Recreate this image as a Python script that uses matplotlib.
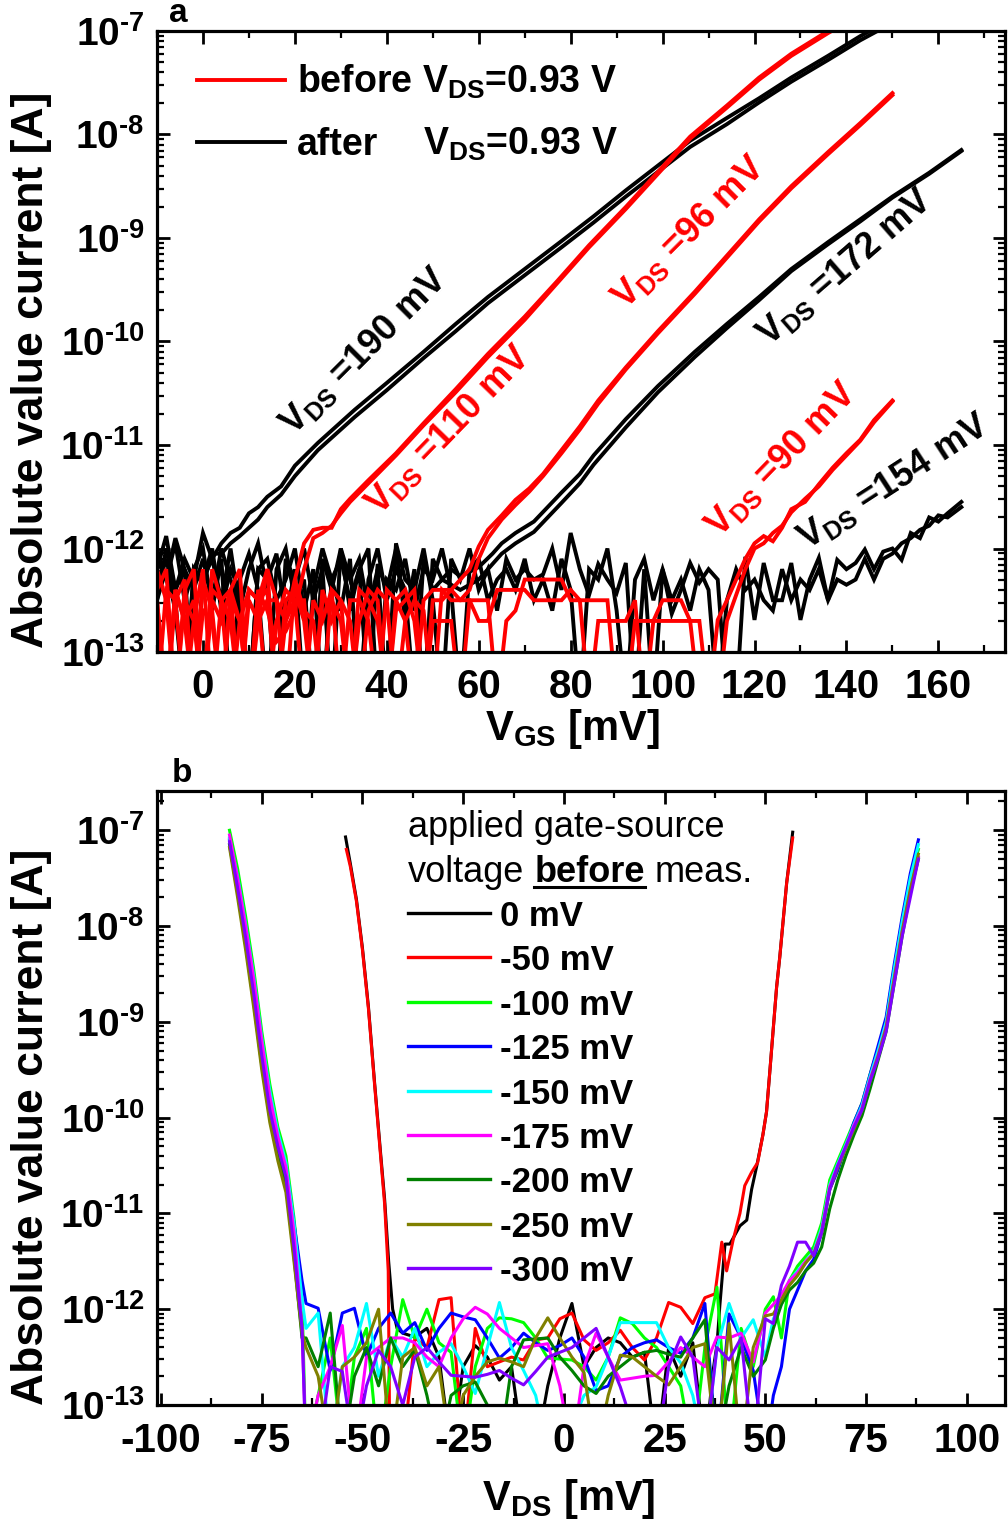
import numpy as np
import matplotlib.pyplot as plt
from matplotlib.lines import Line2D
from matplotlib.ticker import MultipleLocator, LogLocator, NullFormatter

plt.rcParams['font.family'] = 'Liberation Sans'
plt.rcParams['font.weight'] = 'bold'
plt.rcParams['mathtext.fontset'] = 'custom'
plt.rcParams['mathtext.rm'] = 'Liberation Sans:bold'
plt.rcParams['mathtext.it'] = 'Liberation Sans:bold'
plt.rcParams['mathtext.bf'] = 'Liberation Sans:bold'
plt.rcParams['mathtext.sf'] = 'Liberation Sans:bold'
plt.rcParams['mathtext.default'] = 'bf'

# ---------------- panel a : I(V_GS), values are log10|I| ----------------
# noise part: one value every 2 mV starting at -10 mV, then the rising branch

# black pair, V_DS = 190 mV (goes up into the 0.93 V "after" curve)
blk190_noise_1 = [-12.2, -11.88, -12.4, -12.1, -12.3, -11.85, -12.1]
blk190_noise_2 = [-12.5, -12.2, -12.6, -13.5, -12.2, -12.35, -12.05]
blk190_vgs = [4, 6, 8, 10, 12, 14, 17, 20, 25, 33, 40, 48, 55, 62, 70, 78, 85,
              92, 99, 106, 114, 121, 128, 136, 143, 148]
blk190_log_1 = [-11.95, -11.85, -11.8, -11.66, -11.6, -11.5, -11.4, -11.2, -10.98,
                -10.66, -10.4, -10.1, -9.83, -9.57, -9.3, -9.03, -8.79, -8.54,
                -8.3, -8.06, -7.84, -7.65, -7.45, -7.24, -7.05, -6.93]
blk190_log_2 = [-12.05, -11.95, -11.88, -11.8, -11.72, -11.6, -11.48, -11.3, -11.05,
                -10.73, -10.47, -10.16, -9.9, -9.63, -9.36, -9.09, -8.85, -8.6,
                -8.36, -8.12, -7.9, -7.69, -7.49, -7.28, -7.09, -6.97]

# red pair, V_DS = 110 mV (goes up into the 0.93 V "before" curve)
red110_noise_1 = [-12.2, -12.5, -13.5, -12.4, -12.2, -13.5, -12.5, -12.7, -12.4,
                  -13.5, -12.5, -12.7, -12.2, -12.5, -12.7]
red110_noise_2 = [-12.5, -13.5, -12.4, -12.7, -13.5, -12.3, -12.6, -13.5, -12.5,
                  -12.7, -13.5, -12.4, -12.6, -12.9, -12.8]
red110_vgs = [20, 22, 24, 26, 28, 30, 32, 36, 42, 48, 55, 62, 70, 77, 84, 92, 99,
              106, 114, 121, 128, 136, 140]
red110_log_1 = [-12.3, -11.95, -11.82, -11.8, -11.8, -11.62, -11.52, -11.34, -11.08,
                -10.79, -10.46, -10.12, -9.76, -9.42, -9.07, -8.7, -8.36, -8.02,
                -7.72, -7.45, -7.22, -7.0, -6.9]
red110_log_2 = [-12.6, -12.2, -11.9, -11.85, -11.78, -11.66, -11.55, -11.37, -11.1,
                -10.81, -10.49, -10.15, -9.79, -9.44, -9.09, -8.72, -8.38, -8.04,
                -7.74, -7.47, -7.24, -7.02, -6.92]

# red pair, V_DS = 96 mV
red96_noise_1 = [-12.4, -12.2, -13.5, -12.5, -12.7,
                 -13.5, -12.4, -12.5, -13.5, -12.7,
                 -12.4, -12.5, -12.2, -13.5, -12.5,
                 -12.4, -12.7, -13.5, -12.5, -12.5,
                 -12.7, -13.5, -12.4, -12.5, -12.7,
                 -13.5, -12.5, -12.4, -12.7, -13.5,
                 -12.5, -12.5, -12.4, -12.3]
red96_noise_2 = [-12.7, -13.5, -12.5, -12.3, -13.5,
                 -12.6, -12.7, -13.5, -12.4, -12.2,
                 -13.5, -12.7, -12.5, -12.5, -13.5,
                 -12.3, -12.6, -12.7, -13.5, -12.4,
                 -12.5, -12.7, -13.5, -12.6, -12.4,
                 -12.5, -13.5, -12.7, -12.5, -12.6,
                 -13.5, -12.4, -12.5, -12.5]
red96_vgs = [58, 60, 62, 65, 68, 71, 74, 78, 82, 86, 92, 99, 107, 114, 121, 128,
             136, 143, 150]
red96_log_1 = [-12.2, -11.98, -11.82, -11.68, -11.53, -11.42, -11.28, -11.05, -10.82,
               -10.57, -10.25, -9.9, -9.52, -9.17, -8.82, -8.5, -8.17, -7.89, -7.6]
red96_log_2 = [-12.4, -12.1, -11.9, -11.72, -11.58, -11.45, -11.3, -11.08, -10.85,
               -10.6, -10.27, -9.92, -9.54, -9.19, -8.84, -8.52, -8.19, -7.91, -7.62]

# black pair, V_DS = 172 mV
blk172_noise_1 = [-12.1, -12.3, -11.95, -12.5, -12.2,
                  -12.0, -12.6, -12.1, -13.5, -12.3,
                  -12.05, -12.4, -13.5, -12.2, -12.0,
                  -12.5, -12.3, -13.5, -12.1, -12.4,
                  -12.0, -12.6, -12.2, -13.5, -12.15,
                  -12.4, -12.0, -12.7, -12.2, -13.5,
                  -12.1, -12.3, -12.2]
blk172_noise_2 = [-12.5, -12.0, -12.4, -12.2, -13.5,
                  -12.3, -12.1, -12.5, -12.0, -12.6,
                  -13.5, -12.2, -12.3, -12.05, -12.7,
                  -12.2, -13.5, -12.4, -12.0, -12.3,
                  -12.6, -12.1, -13.5, -12.3, -12.0,
                  -12.5, -12.2, -12.4, -13.5, -12.1,
                  -12.4, -12.3, -12.35]
blk172_vgs = [56, 60, 63, 65, 68, 72, 75, 78, 82, 85, 92, 99, 107, 114, 121, 128,
              136, 143, 150, 158, 165]
blk172_log_1 = [-12.27, -12.18, -12.05, -11.95, -11.85, -11.74, -11.6, -11.46, -11.28,
                -11.1, -10.75, -10.43, -10.1, -9.83, -9.57, -9.3, -9.04, -8.82,
                -8.6, -8.37, -8.15]
blk172_log_2 = [-12.4, -12.3, -12.15, -12.05, -11.95, -11.84, -11.7, -11.56, -11.37,
                -11.19, -10.83, -10.49, -10.15, -9.87, -9.6, -9.32, -9.06, -8.84,
                -8.61, -8.38, -8.16]

# red pair, V_DS = 90 mV
red90_noise_1 = [-12.5, -13.5, -12.4, -12.7, -12.5,
                 -13.5, -12.2, -12.5, -12.7, -13.5,
                 -12.4, -12.5, -13.5, -12.7, -12.4,
                 -12.5, -13.5, -12.5, -12.7, -12.4,
                 -13.5, -12.5, -12.5, -12.7, -13.5,
                 -12.4, -12.5, -12.7, -13.5, -12.5,
                 -12.4, -12.4, -12.4, -12.5, -12.5,
                 -12.7, -12.7, -12.4, -12.4, -12.4,
                 -12.4, -12.5, -12.5, -12.5, -12.5,
                 -12.4, -12.5, -13.5, -12.7, -12.7,
                 -12.7, -12.7, -12.5, -13.5, -12.7,
                 -12.7, -12.7, -12.7, -12.7, -13.5,
                 -13.5]
red90_noise_2 = [-13.5, -12.4, -12.5, -13.5, -12.7,
                 -12.2, -13.5, -12.5, -12.4, -12.7,
                 -13.5, -12.5, -12.4, -13.5, -12.7,
                 -12.5, -12.5, -13.5, -12.4, -12.7,
                 -12.5, -13.5, -12.7, -12.4, -12.5,
                 -13.5, -12.6, -12.5, -12.4, -13.5,
                 -12.7, -12.7, -12.7, -13.5, -12.5,
                 -12.5, -12.5, -13.5, -12.7, -12.6,
                 -12.3, -12.3, -12.3, -12.3, -12.3,
                 -12.5, -12.5, -12.5, -12.5, -12.5,
                 -13.5, -13.5, -12.7, -12.7, -12.7,
                 -12.5, -12.5, -12.5, -12.7, -12.7,
                 -13.5]
red90_vgs = [112, 114, 116, 118, 120, 122, 124, 126, 128, 131, 134, 137, 140, 143,
             146, 150]
red90_log_1 = [-12.69, -12.5, -12.3, -12.1, -11.95, -11.88, -11.93, -11.8, -11.62,
               -11.55, -11.38, -11.22, -11.08, -10.95, -10.76, -10.57]
red90_log_2 = [-13.5, -12.7, -12.45, -12.2, -12.0, -11.95, -11.85, -11.78, -11.65,
               -11.52, -11.4, -11.24, -11.1, -10.96, -10.78, -10.58]

# black pair, V_DS = 154 mV
blk154_noise_1 = [-12.0, -12.3, -11.9, -12.2, -12.4,
                  -12.1, -12.5, -12.0, -12.3, -12.6,
                  -12.2, -11.95, -12.4, -13.5, -12.1,
                  -12.3, -12.0, -12.5, -12.2, -13.5,
                  -12.0, -12.3, -12.1, -12.6, -12.2,
                  -13.5, -11.95, -12.3, -12.4, -12.0,
                  -12.5, -13.5, -12.1, -12.3, -12.0,
                  -12.4, -12.2, -12.6, -12.1, -12.3,
                  -12.2, -12.3, -12.25, -12.0, -12.4,
                  -11.85, -12.2, -12.45, -12.15, -12.3,
                  -12.43, -12.14, -13.5, -12.2, -13.5,
                  -12.2, -12.63, -12.4, -12.14, -12.33,
                  -12.2, -12.3, -13.5, -13.5, -12.08,
                  -12.69, -12.14, -12.5, -12.5, -12.14,
                  -12.69, -12.3, -12.09, -12.5, -12.11,
                  -12.2]
blk154_noise_2 = [-12.4, -12.1, -12.5, -13.5, -12.2,
                  -12.3, -12.0, -12.6, -12.2, -12.4,
                  -13.5, -12.2, -12.1, -12.5, -12.3,
                  -12.0, -12.6, -12.2, -13.5, -12.3,
                  -12.1, -12.5, -12.2, -12.0, -13.5,
                  -12.3, -12.4, -12.1, -12.6, -12.2,
                  -12.3, -12.0, -12.4, -13.5, -12.2,
                  -12.1, -12.5, -12.3, -12.2, -12.4,
                  -12.1, -12.5, -12.3, -12.6, -12.1,
                  -12.4, -13.5, -12.2, -12.3, -12.0,
                  -12.6, -13.5, -12.3, -12.1, -12.5,
                  -12.2, -12.5, -12.3, -12.6, -12.2,
                  -12.4, -13.5, -12.5, -12.2, -12.4,
                  -12.3, -12.5, -12.6, -12.2, -12.5,
                  -12.3, -12.4, -12.2, -12.5, -12.3,
                  -12.35]
blk154_vgs = [142, 144, 146, 148, 150, 152, 154, 156, 158, 160, 162, 165]
blk154_log_1 = [-12.14, -12.01, -12.2, -12.03, -12.0, -12.11, -11.85, -11.9, -11.7,
                -11.74, -11.66, -11.55]
blk154_log_2 = [-12.3, -12.1, -12.3, -12.1, -12.05, -11.95, -11.9, -11.82, -11.78,
                -11.68, -11.7, -11.6]

vds_labels_a = ['V$_{DS}$ =190 mV', 'V$_{DS}$ =110 mV', 'V$_{DS}$ =96 mV',
                'V$_{DS}$ =172 mV', 'V$_{DS}$ =90 mV', 'V$_{DS}$ =154 mV']
legend_a = ['before V$_{DS}$=0.93 V', 'after', 'V$_{DS}$=0.93 V']
vgs_ticks = [0, 20, 40, 60, 80, 100, 120, 140, 160]

# ---------------- panel b : I(V_DS) for several gate pre-bias values ----------------
gate_labels = ['0 mV', '-50 mV', '-100 mV', '-125 mV', '-150 mV', '-175 mV',
               '-200 mV', '-250 mV', '-300 mV']
gate_colors = ['#000000', '#ff0000', '#00ff00', '#0000ff', '#00ffff', '#ff00ff',
               '#008000', '#808000', '#8000ff']

# 0 mV and -50 mV: steep flanks typed point by point, floor every 3 mV from -40 mV
zero_left_vds = [-54.2, -53, -51.5, -50, -48.5, -47, -45.5, -44.5, -43.5, -42.5, -41.4]
zero_left_log = [-7.07, -7.35, -7.72, -8.23, -8.85, -9.63, -10.37, -10.85, -11.5,
                 -12.0, -12.2]
zero_noise = [-12.25, -12.29, -12.2, -12.5, -13.5,
              -12.6, -12.38, -12.5, -12.74, -12.6,
              -13.5, -13.5, -12.8, -12.3, -11.94,
              -12.6, -12.4, -12.3, -12.35, -12.5,
              -12.45, -13.5, -12.4, -12.7, -12.35,
              -13.5]
zero_right_vds = [37, 38, 38.7, 40, 41.2, 43.7, 45.4, 46.6, 47.9, 49.4, 50.3, 51.1,
                  52.8, 53.6, 55.3, 56.8]
zero_right_log = [-12.65, -12.37, -11.97, -11.32, -11.32, -11.13, -11.07, -10.75,
                  -10.5, -10.18, -9.94, -9.53, -8.64, -8.32, -7.55, -7.02]

m50_left_vds = [-54, -53, -51.5, -50, -48.5, -47, -45.5, -44.5, -43.6, -43.2]
m50_left_log = [-7.2, -7.38, -7.74, -8.25, -8.87, -9.65, -10.4, -10.9, -11.6, -13.5]
m50_noise = [-13.5, -12.3, -12.4, -11.9, -11.88,
             -13.5, -12.2, -12.6, -12.55, -12.5,
             -12.53, -12.32, -12.3, -12.1, -12.04,
             -12.32, -12.43, -12.35, -12.22, -12.4,
             -12.53, -12.3, -11.93, -11.98, -12.15,
             -11.88]
m50_right_vds = [37.5, 39.2, 40.4, 42, 43.7, 44.9, 46.6, 48.1, 49.4, 50.3, 51.1, 52.8,
                 53.6, 55.3, 56.8]
m50_right_log = [-11.84, -11.3, -11.6, -11.28, -11.0, -10.71, -10.57, -10.47, -10.18,
                 -9.94, -9.53, -8.64, -8.32, -7.55, -7.08]

# -100 ... -300 mV: shared V_DS points on both flanks, floor every 3 mV from -64 mV
deep_left_vds = [-83, -81, -79, -77, -75, -73, -71, -69, -67, -65]
deep_right_vds = [52, 54, 56, 58, 60, 62, 64, 66, 68, 70, 72, 74, 76, 78, 80, 82,
                  84, 86, 88]

m100_left = [-7.0, -7.4, -7.9, -8.45, -9.1, -9.65, -10.1, -10.4, -11.05, -11.9]
m100_noise = [-13.5, -12.9, -12.3, -13.5, -12.5,
              -12.2, -13.5, -12.6, -11.9, -12.3,
              -12.0, -12.35, -12.45, -13.5, -12.6,
              -12.2, -12.09, -12.1, -12.14, -12.3,
              -12.51, -12.52, -12.53, -12.6, -12.74,
              -12.5, -12.09, -12.15, -12.3, -12.4,
              -12.6, -12.8, -13.5, -12.4, -11.77,
              -13.5, -12.2, -12.6, -12.0]
m100_right = [-11.87, -12.3, -11.7, -11.55, -11.45, -11.35, -11.1, -10.65, -10.45,
              -10.25, -10.05, -9.85, -9.55, -9.28, -8.98, -8.45, -7.95, -7.5, -7.2]

m125_left = [-7.1, -7.5, -8.0, -8.55, -9.2, -9.75, -10.2, -10.5, -11.1, -11.7]
m125_noise = [-11.94, -11.99, -12.64, -12.04, -11.99,
              -12.5, -12.2, -12.04, -12.25, -12.14,
              -12.43, -12.2, -12.04, -12.08, -12.11,
              -12.3, -12.51, -12.4, -12.25, -12.35,
              -12.43, -12.38, -12.3, -12.5, -12.85,
              -12.8, -12.5, -12.4, -12.35, -12.32,
              -12.4, -12.46, -12.3, -11.94, -13.5,
              -12.05, -12.3, -12.64, -13.5]
m125_right = [-12.9, -12.6, -12.0, -11.8, -11.6, -11.48, -11.2, -10.75, -10.55,
              -10.3, -10.05, -9.85, -9.55, -9.25, -8.95, -8.4, -7.9, -7.45, -7.1]

m150_left = [-7.08, -7.48, -7.98, -8.52, -9.17, -9.72, -10.15, -10.47, -11.1, -11.9]
m150_noise = [-12.2, -12.04, -13.5, -12.6, -12.4,
              -11.94, -12.7, -12.3, -12.5, -12.2,
              -12.6, -12.45, -12.36, -12.6, -12.88,
              -12.4, -11.93, -12.4, -12.64, -12.9,
              -13.5, -13.5, -13.2, -12.9, -12.81,
              -12.5, -12.14, -12.14, -12.14, -12.14,
              -12.4, -12.56, -12.9, -13.5, -12.4,
              -11.94, -12.3, -12.11, -12.5]
m150_right = [-12.1, -11.95, -11.7, -11.6, -11.5, -11.4, -11.15, -10.7, -10.48,
              -10.28, -10.07, -9.87, -9.57, -9.3, -9.0, -8.45, -7.95, -7.5, -7.15]

m175_left = [-7.05, -7.5, -8.0, -8.55, -9.2, -9.78, -10.2, -10.52, -11.2, -12.2]
m175_noise = [-13.5, -12.9, -12.6, -12.17, -13.5,
              -12.5, -12.4, -12.3, -12.3, -12.35,
              -12.5, -12.6, -12.3, -12.1, -11.98,
              -12.05, -12.2, -12.3, -12.4, -12.38,
              -12.36, -12.8, -13.5, -12.6, -12.25,
              -12.5, -12.74, -12.72, -12.7, -12.69,
              -12.55, -12.4, -12.5, -12.6, -12.29,
              -12.3, -12.25, -12.55, -12.04]
m175_right = [-11.95, -11.85, -11.7, -11.62, -11.5, -11.42, -11.18, -10.72, -10.5,
              -10.3, -10.08, -9.9, -9.6, -9.35, -9.05, -8.55, -8.05, -7.62, -7.28]

m200_left = [-7.15, -7.65, -8.2, -8.8, -9.45, -10.0, -10.4, -10.7, -11.45, -12.3]
m200_noise = [-12.3, -12.6, -12.04, -13.5, -12.7,
              -12.4, -12.8, -12.3, -12.6, -12.42,
              -12.9, -13.5, -12.9, -12.8, -12.76,
              -13.0, -13.5, -12.6, -12.32, -12.31,
              -12.3, -12.5, -12.64, -12.8, -12.88,
              -12.7, -12.6, -12.5, -12.45, -12.43,
              -12.47, -12.5, -12.3, -12.11, -13.5,
              -12.8, -12.4, -12.7, -12.53]
m200_right = [-12.2, -11.95, -11.8, -11.72, -11.6, -11.52, -11.35, -10.95, -10.65,
              -10.4, -10.18, -9.98, -9.7, -9.4, -9.1, -8.6, -8.1, -7.65, -7.3]

m250_left = [-7.18, -7.7, -8.25, -8.85, -9.5, -10.05, -10.45, -10.78, -11.5, -12.25]
m250_noise = [-12.4, -12.7, -13.5, -12.6, -12.5,
              -12.35, -12.0, -13.5, -12.5, -12.4,
              -12.8, -12.6, -13.5, -12.9, -12.7,
              -12.55, -12.51, -12.55, -12.6, -12.3,
              -12.09, -12.3, -12.5, -12.66, -13.5,
              -12.9, -12.48, -12.5, -12.6, -12.7,
              -12.79, -12.6, -12.4, -12.36, -13.5,
              -12.15, -13.5, -12.4, -12.07]
m250_right = [-12.05, -11.9, -11.75, -11.65, -11.52, -11.42, -11.2, -10.75, -10.52,
              -10.32, -10.12, -9.92, -9.62, -9.36, -9.06, -8.55, -8.05, -7.62, -7.25]

m300_left = [-7.12, -7.6, -8.12, -8.7, -9.35, -9.92, -10.3, -10.62, -11.36, -12.2]
m300_noise = [-13.5, -13.5, -12.6, -12.65, -13.5,
              -12.8, -12.43, -12.6, -13.0, -12.5,
              -12.4, -12.55, -12.69, -12.7, -12.71,
              -12.68, -12.64, -12.72, -12.79, -12.65,
              -12.5, -12.45, -12.4, -12.3, -12.2,
              -12.5, -12.81, -13.2, -13.5, -13.5,
              -12.6, -12.29, -12.5, -13.5, -12.4,
              -12.53, -12.3, -13.5, -12.1]
m300_right = [-12.15, -11.75, -11.55, -11.3, -11.3, -11.44, -11.2, -10.75, -10.5,
              -10.3, -10.1, -9.92, -9.62, -9.38, -9.1, -8.6, -8.1, -7.7, -7.3]

vds_ticks = [-100, -75, -50, -25, 0, 25, 50, 75, 100]
vds_tick_labels = ['-100', '-75', '-50', '-25', '0', '25', '50', '75', '100']
decades = [-13, -12, -11, -10, -9, -8, -7]


def sweep(start, step, noise, rise_x, rise_log):
    x = np.concatenate([start + step * np.arange(len(noise)), rise_x])
    return x, 10.0 ** np.concatenate([noise, rise_log])


def two_flanks(left_x, left_log, start, step, noise, right_x, right_log):
    x = np.concatenate([left_x, start + step * np.arange(len(noise)), right_x])
    return x, 10.0 ** np.concatenate([left_log, noise, right_log])


def fpx(x, y):
    return x / 1008, 1 - y / 1523


def style_axes(ax, xpad):
    for s in ax.spines.values():
        s.set_linewidth(2.3)
    ax.set_yscale('log')
    # short hyphen in the exponent, as in the original axis labels
    ax.set_yticks([10.0 ** d for d in decades],
                  labels=['$10^{\u2010%d}$' % -d for d in decades])
    ax.yaxis.set_minor_locator(LogLocator(base=10, subs=np.arange(2, 10), numticks=30))
    ax.yaxis.set_minor_formatter(NullFormatter())
    ax.tick_params(which='both', direction='in', top=True, right=True)
    ax.tick_params(which='major', length=9, width=2.0)
    ax.tick_params(which='minor', length=5, width=1.6)
    ax.tick_params(axis='x', labelsize=29, pad=xpad)
    ax.tick_params(axis='y', labelsize=28, pad=9)


fig = plt.figure(figsize=(10.08, 15.23), dpi=100)
ax_a = fig.add_axes([157 / 1008, 1 - 652 / 1523, 848 / 1008, 621 / 1523])
ax_b = fig.add_axes([157 / 1008, 1 - 1405 / 1523, 848 / 1008, 614 / 1523])

# ---- panel a ----
lw_a = 2.8
curves_a = [
    (blk190_noise_1, blk190_vgs, blk190_log_1, 'black'),
    (blk190_noise_2, blk190_vgs, blk190_log_2, 'black'),
    (blk172_noise_1, blk172_vgs, blk172_log_1, 'black'),
    (blk172_noise_2, blk172_vgs, blk172_log_2, 'black'),
    (blk154_noise_1, blk154_vgs, blk154_log_1, 'black'),
    (blk154_noise_2, blk154_vgs, blk154_log_2, 'black'),
    (red110_noise_1, red110_vgs, red110_log_1, 'red'),
    (red110_noise_2, red110_vgs, red110_log_2, 'red'),
    (red96_noise_1, red96_vgs, red96_log_1, 'red'),
    (red96_noise_2, red96_vgs, red96_log_2, 'red'),
    (red90_noise_1, red90_vgs, red90_log_1, 'red'),
    (red90_noise_2, red90_vgs, red90_log_2, 'red'),
]
for noise, vx, vl, c in curves_a:
    x, y = sweep(-10, 2, noise, vx, vl)
    ax_a.plot(x, y, color=c, lw=lw_a, solid_joinstyle='miter')

style_axes(ax_a, 11.5)
ax_a.set_xlim(-10, 174.5)
ax_a.set_ylim(1e-13, 1e-7)
ax_a.set_xticks(vgs_ticks)
ax_a.xaxis.set_minor_locator(MultipleLocator(10))

# rotated V_DS labels along the curves
ann_pos = [(35.0, -10.10, 45, 'black'), (53.4, -10.86, 46, 'red'),
           (105.7, -8.95, 45, 'red'), (139.6, -9.28, 41, 'black'),
           (125.8, -11.14, 46, 'red'), (150.2, -11.36, 33, 'black')]
for txt, (xx, ll, rot, c) in zip(vds_labels_a, ann_pos):
    ax_a.text(xx, 10.0 ** ll, txt, color=c, fontsize=26, rotation=rot,
              rotation_mode='anchor', ha='center', va='center')

# legend of panel a
fig.add_artist(Line2D([197 / 1008, 285 / 1008], [fpx(0, 80)[1]] * 2,
                      transform=fig.transFigure, color='red', lw=2.8))
fig.add_artist(Line2D([197 / 1008, 285 / 1008], [fpx(0, 142)[1]] * 2,
                      transform=fig.transFigure, color='black', lw=2.8))
fig.text(*fpx(297, 93), legend_a[0], fontsize=27, va='baseline')
fig.text(*fpx(297, 155), legend_a[1], fontsize=27, va='baseline')
fig.text(*fpx(423, 155), legend_a[2], fontsize=27, va='baseline')

fig.text(*fpx(573, 740), 'V$_{GS}$ [mV]', fontsize=30, ha='center', va='baseline')
fig.text(*fpx(32, 370), 'Absolute value current [A]', fontsize=32, rotation=90,
         ha='center', va='center')
fig.text(*fpx(178, 14), 'a', fontsize=24, ha='center', va='center')

# ---- panel b ----
lw_b = 2.2
sweeps_b = [
    two_flanks(zero_left_vds, zero_left_log, -40, 3, zero_noise, zero_right_vds, zero_right_log),
    two_flanks(m50_left_vds, m50_left_log, -40, 3, m50_noise, m50_right_vds, m50_right_log),
    two_flanks(deep_left_vds, m100_left, -64, 3, m100_noise, deep_right_vds, m100_right),
    two_flanks(deep_left_vds, m125_left, -64, 3, m125_noise, deep_right_vds, m125_right),
    two_flanks(deep_left_vds, m150_left, -64, 3, m150_noise, deep_right_vds, m150_right),
    two_flanks(deep_left_vds, m175_left, -64, 3, m175_noise, deep_right_vds, m175_right),
    two_flanks(deep_left_vds, m200_left, -64, 3, m200_noise, deep_right_vds, m200_right),
    two_flanks(deep_left_vds, m250_left, -64, 3, m250_noise, deep_right_vds, m250_right),
    two_flanks(deep_left_vds, m300_left, -64, 3, m300_noise, deep_right_vds, m300_right),
]
for (x, y), c in zip(sweeps_b, gate_colors):
    ax_b.plot(x, y, color=c, lw=lw_b)

style_axes(ax_b, 12.5)
ax_b.set_xlim(-101, 109.5)
ax_b.set_ylim(1e-13, 10 ** -6.59)
ax_b.set_xticks(vds_ticks, labels=vds_tick_labels)
ax_b.xaxis.set_minor_locator(MultipleLocator(12.5))

# legend of panel b
for i, (lab, c) in enumerate(zip(gate_labels, gate_colors)):
    yl = 913 + 44.4 * i
    fig.add_artist(Line2D([408 / 1008, 490 / 1008], [fpx(0, yl)[1]] * 2,
                          transform=fig.transFigure, color=c, lw=2.4))
    fig.text(*fpx(500, yl + 13), lab, fontsize=25, va='baseline')

fig.text(*fpx(408, 837), 'applied gate-source', fontsize=26, fontweight='normal',
         va='baseline')
r = fig.canvas.get_renderer()
W = fig.bbox.width
space = 0.278 * 26 * 100 / 72
t1 = fig.text(*fpx(408, 882), 'voltage', fontsize=26, fontweight='normal', va='baseline')
b1 = t1.get_window_extent(renderer=r)
t2 = fig.text((b1.x1 + space) / W, fpx(0, 882)[1], 'before', fontsize=26,
              fontweight='bold', va='baseline')
b2 = t2.get_window_extent(renderer=r)
fig.add_artist(Line2D([b2.x0 / W, b2.x1 / W], [fpx(0, 887)[1]] * 2,
                      transform=fig.transFigure, color='black', lw=2.2))
fig.text((b2.x1 + space) / W, fpx(0, 882)[1], 'meas.', fontsize=26,
         fontweight='normal', va='baseline')

fig.text(*fpx(569, 1510), 'V$_{DS}$ [mV]', fontsize=30, ha='center', va='baseline')
fig.text(*fpx(32, 1127), 'Absolute value current [A]', fontsize=32, rotation=90,
         ha='center', va='center')
fig.text(*fpx(182, 773), 'b', fontsize=24, ha='center', va='center')

fig.savefig('out.png', dpi=100)
